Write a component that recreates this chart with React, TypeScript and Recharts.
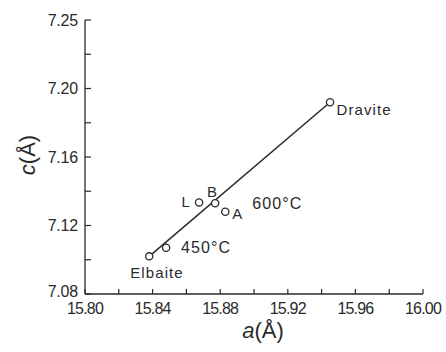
import React from 'react';
import { ScatterChart, Scatter, XAxis, YAxis } from 'recharts';

const xTicks = [15.8, 15.82, 15.84, 15.86, 15.88, 15.9, 15.92, 15.94, 15.96, 15.98, 16.0];
const xTickLabels = ['15.80', '', '15.84', '', '15.88', '', '15.92', '', '15.96', '', '16.00'];
const yTicks = [7.08, 7.1, 7.12, 7.14, 7.16, 7.18, 7.2, 7.22, 7.24];
const yTickLabels = ['7.08', '', '7.12', '', '7.16', '', '7.20', '', '7.25'];

const pointNames = ['Elbaite', '450°C', 'L', 'B', 'A', 'Dravite'];
const aValues = [15.838, 15.848, 15.8675, 15.877, 15.883, 15.945];
const cValues = [7.102, 7.107, 7.1335, 7.133, 7.128, 7.192];
const extraNotes = ['600°C'];
const extraNoteAt = ['A'];

const trendA = [15.838, 15.945];
const trendC = [7.102, 7.192];

const points = pointNames.map((name, i) => ({
  name,
  a: aValues[i],
  c: cValues[i],
  notes: [name, ...extraNotes.filter((_, j) => extraNoteAt[j] === name)],
}));
const trend = trendA.map((a, i) => ({ a, c: trendC[i] }));

const FONT = '"Liberation Sans", Arial, Helvetica, sans-serif';
const INK = '#2a2a2a';

// label placement styles (offsets from the point centre)
const NOTE_STYLE: Record<string, { dx: number; dy: number; anchor: string; size: number }> = {
  Elbaite: { dx: -19, dy: 16.5, anchor: 'start', size: 15 },
  '450°C': { dx: 15, dy: 0, anchor: 'start', size: 16 },
  L: { dx: -8, dy: -1, anchor: 'end', size: 15 },
  B: { dx: -2.5, dy: -12, anchor: 'middle', size: 15 },
  A: { dx: 7, dy: 2, anchor: 'start', size: 15 },
  '600°C': { dx: 27, dy: -8, anchor: 'start', size: 16 },
  Dravite: { dx: 6.5, dy: 7, anchor: 'start', size: 15 },
};

const PointShape = (props: any) => {
  const { cx, cy, payload } = props;
  return (
    <g>
      <circle cx={cx} cy={cy} r={3.6} fill="#fff" stroke={INK} strokeWidth={1.3} />
      {payload.notes.map((t: string) => {
        const s = NOTE_STYLE[t];
        return (
          <text
            key={t}
            x={cx + s.dx}
            y={cy + s.dy}
            textAnchor={s.anchor as any}
            dominantBaseline="central"
            fontFamily={FONT}
            fontSize={s.size}
            letterSpacing={1.1}
            fill={INK}
          >
            {t}
          </text>
        );
      })}
    </g>
  );
};

const XTick = (props: any) => {
  const { x, y, index } = props;
  const label = xTickLabels[index];
  return (
    <g>
      <line x1={x} y1={y} x2={x} y2={y - 5} stroke={INK} strokeWidth={1.2} />
      {label ? (
        <text x={x} y={y + 14} textAnchor="middle" dominantBaseline="central" fontFamily={FONT} fontSize={16} letterSpacing={-0.8} fill={INK}>
          {label}
        </text>
      ) : null}
    </g>
  );
};

const YTick = (props: any) => {
  const { x, y, index } = props;
  const label = yTickLabels[index];
  const dy = index === 0 ? -3 : 0;
  return (
    <g>
      <line x1={x} y1={y} x2={x + 6} y2={y} stroke={INK} strokeWidth={1.2} />
      {label ? (
        <text x={x - 7} y={y + dy} textAnchor="end" dominantBaseline="central" fontFamily={FONT} fontSize={16} letterSpacing={-0.2} fill={INK}>
          {label}
        </text>
      ) : null}
    </g>
  );
};

const XTitle = () => (
  <text x={263} y={338} textAnchor="middle" fontFamily={FONT} fontSize={22} fill={INK}>
    <tspan fontStyle="italic">a</tspan>
    <tspan>(Å)</tspan>
  </text>
);

const YTitle = () => (
  <text x={0} y={0} transform="translate(35,155) rotate(-90)" textAnchor="middle" fontFamily={FONT} fontSize={22} fill={INK}>
    <tspan fontStyle="italic">c</tspan>
    <tspan>(Å)</tspan>
  </text>
);

export default function App() {
  return (
    <div style={{ position: 'absolute', left: 0, top: 0, background: '#fff' }}>
      <ScatterChart width={446} height={352} margin={{ top: 20, right: 23, left: 0, bottom: 0 }}>
        <XAxis
          type="number"
          dataKey="a"
          domain={[15.8, 16.0]}
          ticks={xTicks}
          interval={0}
          tickSize={0}
          tickMargin={0}
          tickLine={false}
          tick={<XTick />}
          height={58}
          stroke={INK}
          strokeWidth={1.3}
          allowDataOverflow
          label={<XTitle />}
        />
        <YAxis
          type="number"
          dataKey="c"
          domain={[7.08, 7.24]}
          ticks={yTicks}
          interval={0}
          tickSize={0}
          tickMargin={0}
          tickLine={false}
          tick={<YTick />}
          width={85}
          stroke={INK}
          strokeWidth={1.3}
          allowDataOverflow
          label={<YTitle />}
        />
        <Scatter
          data={trend}
          line={{ stroke: INK, strokeWidth: 1.5 }}
          shape={() => <g />}
          isAnimationActive={false}
        />
        <Scatter data={points} shape={<PointShape />} isAnimationActive={false} />
      </ScatterChart>
    </div>
  );
}
